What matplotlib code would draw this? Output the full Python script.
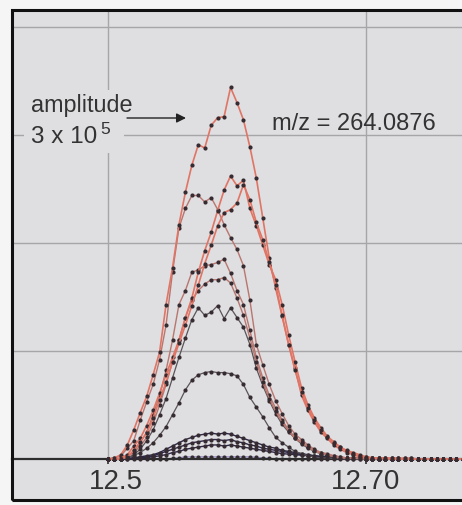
import matplotlib
matplotlib.use("Agg")
import matplotlib.pyplot as plt
from matplotlib.patches import Rectangle
from matplotlib.transforms import ScaledTranslation
import numpy as np

plt.rcParams['font.family'] = ['Liberation Sans', 'DejaVu Sans']

# ---- data (retention time in min, intensity in units of 1e5) ----
scan_time = [12.500, 12.505, 12.510, 12.515, 12.520, 12.525, 12.530, 12.535,
             12.540, 12.545, 12.550, 12.555, 12.560, 12.565, 12.570, 12.575,
             12.580, 12.585, 12.590, 12.595, 12.600, 12.605, 12.610, 12.615,
             12.620, 12.625, 12.630, 12.635, 12.640, 12.645, 12.650, 12.655,
             12.660, 12.665, 12.670, 12.675, 12.680, 12.685, 12.690, 12.695,
             12.700, 12.705, 12.710, 12.715, 12.720, 12.725, 12.730, 12.735,
             12.740, 12.745, 12.750, 12.755, 12.760, 12.765, 12.770, 12.775]

trace_a = [0, 0.01, 0.04, 0.13, 0.27, 0.43, 0.58, 0.78, 0.99, 1.43, 1.77, 2.17,
           2.47, 2.72, 2.91, 2.88, 3.09, 3.16, 3.17, 3.44, 3.30, 3.14, 2.89, 2.60,
           2.23, 1.86, 1.58, 1.32, 1.06, 0.84, 0.59, 0.45, 0.34, 0.25, 0.19, 0.13,
           0.09, 0.06, 0.04, 0.02, 0.01, 0.01, 0.01, 0.005, 0.005, 0.005,
           0, 0, 0, 0, 0, 0, 0, 0, 0, 0]
trace_b = [0, 0, 0.01, 0.04, 0.12, 0.19, 0.31, 0.45, 0.61, 0.78, 0.94, 1.10,
           1.31, 1.49, 1.73, 1.93, 2.10, 2.30, 2.49, 2.62, 2.53, 2.58, 2.32, 2.16,
           1.98, 1.80, 1.66, 1.43, 1.15, 0.90, 0.66, 0.50, 0.38, 0.29, 0.21, 0.16,
           0.11, 0.07, 0.05, 0.03, 0.02, 0.01,
           0.01, 0.01, 0.005, 0.005, 0.005, 0.005, 0, 0, 0, 0, 0, 0, 0, 0]
trace_c = [0, 0.01, 0.03, 0.10, 0.17, 0.36, 0.53, 0.69, 0.92, 1.24, 1.73, 2.14,
           2.32, 2.44, 2.44, 2.38, 2.42, 2.31, 2.17, 2.05, 1.94, 1.79, 1.47, 1.06,
           0.87, 0.69, 0.54, 0.42, 0.31, 0.23, 0.18, 0.13, 0.09, 0.06, 0.05, 0.03,
           0.02, 0.01,
           0.01, 0.01, 0.005, 0.005, 0.005, 0, 0, 0, 0, 0, 0, 0, 0, 0, 0, 0, 0, 0]
trace_d = [0, 0, 0, 0.02, 0.08, 0.16, 0.24, 0.38, 0.55, 0.71, 0.90, 1.07,
           1.24, 1.42, 1.61, 1.81, 1.98, 2.16, 2.28, 2.31, 2.37, 2.54, 2.40, 2.19,
           2.03, 1.82, 1.61, 1.33, 1.06, 0.82, 0.62, 0.47, 0.36, 0.27, 0.20, 0.15,
           0.11, 0.08, 0.06, 0.04, 0.02, 0.01,
           0.01, 0.01, 0.005, 0.005, 0.005, 0.005, 0, 0, 0, 0, 0, 0, 0, 0]
trace_e = [0, 0, 0, 0.03, 0.07, 0.15, 0.25, 0.41, 0.59, 0.82, 1.10, 1.43,
           1.56, 1.73, 1.75, 1.79, 1.80, 1.82, 1.85, 1.72, 1.56, 1.43, 1.19, 0.94,
           0.75, 0.59, 0.47, 0.36, 0.27, 0.20, 0.16, 0.11, 0.08, 0.06, 0.04, 0.03,
           0.02, 0.01,
           0.01, 0.005, 0.005, 0.005, 0, 0, 0, 0, 0, 0, 0, 0, 0, 0, 0, 0, 0, 0]
trace_f = [0, 0, 0, 0.02, 0.06, 0.12, 0.20, 0.33, 0.50, 0.69, 0.90, 1.10,
           1.31, 1.47, 1.56, 1.62, 1.66, 1.66, 1.68, 1.63, 1.49, 1.33, 1.12, 0.90,
           0.71, 0.56, 0.44, 0.34, 0.26, 0.19, 0.15, 0.11, 0.07, 0.05, 0.04, 0.02,
           0.01,
           0.01, 0.005, 0.005, 0, 0, 0, 0, 0, 0, 0, 0, 0, 0, 0, 0, 0, 0, 0, 0]
trace_g = [0, 0, 0, 0.01, 0.04, 0.09, 0.17, 0.27, 0.41, 0.56, 0.75, 0.94,
           1.12, 1.29, 1.40, 1.33, 1.36, 1.42, 1.30, 1.40, 1.31, 1.22, 1.06, 0.84,
           0.68, 0.54, 0.42, 0.32, 0.25, 0.19, 0.14, 0.10, 0.07, 0.05, 0.03, 0.02,
           0.01,
           0.01, 0.005, 0.005, 0, 0, 0, 0, 0, 0, 0, 0, 0, 0, 0, 0, 0, 0, 0, 0]
trace_h = [0, 0, 0, 0.01, 0.03, 0.06, 0.10, 0.15, 0.22, 0.30, 0.41, 0.52,
           0.64, 0.73, 0.78, 0.80, 0.81, 0.80, 0.80, 0.79, 0.77, 0.69, 0.57, 0.48,
           0.39, 0.29, 0.20, 0.15, 0.11, 0.07, 0.05, 0.03, 0.02, 0.01,
           0.01, 0.005, 0.005, 0, 0, 0, 0, 0, 0, 0, 0, 0, 0, 0, 0, 0, 0, 0, 0, 0, 0, 0]
trace_s1 = [0, 0, 0, 0.005, 0.01, 0.02, 0.03, 0.04, 0.06, 0.09, 0.12, 0.15,
            0.18, 0.20, 0.22, 0.23, 0.24, 0.23, 0.24, 0.23, 0.21, 0.19, 0.17, 0.15,
            0.13, 0.11, 0.10, 0.08, 0.07, 0.06, 0.05, 0.04, 0.03, 0.025, 0.02, 0.015,
            0.01, 0.01, 0.005, 0.005,
            0, 0, 0, 0, 0, 0, 0, 0, 0, 0, 0, 0, 0, 0, 0, 0]
trace_s2 = [0, 0, 0, 0.005, 0.01, 0.015, 0.02, 0.03, 0.05, 0.07, 0.09, 0.11,
            0.13, 0.15, 0.16, 0.17, 0.18, 0.18, 0.17, 0.18, 0.16, 0.15, 0.13, 0.12,
            0.10, 0.09, 0.08, 0.07, 0.06, 0.05, 0.04, 0.035, 0.03, 0.02, 0.015, 0.01,
            0.01, 0.005, 0.005, 0.005,
            0, 0, 0, 0, 0, 0, 0, 0, 0, 0, 0, 0, 0, 0, 0, 0]
trace_s3 = [0, 0, 0, 0, 0.005, 0.01, 0.015, 0.02, 0.03, 0.04, 0.06, 0.07,
            0.09, 0.10, 0.11, 0.12, 0.13, 0.13, 0.12, 0.13, 0.12, 0.11, 0.10, 0.09,
            0.08, 0.07, 0.06, 0.05, 0.045, 0.04, 0.035, 0.03, 0.025, 0.02, 0.015, 0.01,
            0.01, 0.005, 0.005, 0.005,
            0, 0, 0, 0, 0, 0, 0, 0, 0, 0, 0, 0, 0, 0, 0, 0]
trace_s4 = [0, 0, 0, 0, 0, 0, 0, 0, 0, 0, 0.005, 0.01,
            0.02, 0.02, 0.02, 0.02, 0.02, 0.02, 0.02, 0.02, 0.02, 0.02, 0.02, 0.015,
            0.01, 0.005,
            0, 0, 0, 0, 0, 0, 0, 0, 0, 0, 0, 0, 0, 0, 0, 0, 0, 0, 0, 0,
            0, 0, 0, 0, 0, 0, 0, 0, 0, 0]

xtick_vals = [12.5, 12.70]
xtick_labels = ['12.5', '12.70']
grid_y = [1, 2, 3, 4]

# ---- styles ----
W, H = 462, 505
BG = '#dfdee1'
RED = '#e07565'
MUTED = '#b8766f'
DARK = '#5a5458'
NAVY = '#2d2848'
LAV = '#9a94c8'
DOT = '#352b30'
TXT = '#333333'

def fx(px):
    return px / W

def fy(py):
    return 1 - py / H

fig = plt.figure(figsize=(W / 100, H / 100), dpi=100, facecolor='#f5f5f5')

# frame background
fig.add_artist(Rectangle((fx(12), fy(500)), fx(472) - fx(12), fy(10) - fy(500),
                         transform=fig.transFigure, facecolor=BG, edgecolor='none',
                         zorder=-5))

ax = fig.add_axes([fx(12), fy(459), fx(472) - fx(12), fy(10) - fy(459)])
ax.set_facecolor('none')
ax.set_xlim(12.5 - 96 / 1290, 12.5 + 364 / 1290)
ax.set_ylim(0, 449 / 108)
ax.set_axisbelow(True)

for s in ['top', 'left', 'right']:
    ax.spines[s].set_visible(False)
ax.spines['bottom'].set_color('#2e2e2e')
ax.spines['bottom'].set_linewidth(1.6)

ax.set_yticks(grid_y)
ax.tick_params(axis='y', length=0, labelleft=False)
ax.set_xticks(xtick_vals, xtick_labels)
ax.tick_params(axis='x', direction='out', length=3.5, width=1.2, color='#2e2e2e',
               labelsize=20, labelcolor=TXT, pad=4)
ax.grid(True, color='#a6a6a8', linewidth=1.0)
# first label sits slightly right of its tick
lab0 = ax.get_xticklabels()[0]
lab0.set_transform(lab0.get_transform() + ScaledTranslation(8 / 100, 0, fig.dpi_scale_trans))

t = np.array(scan_time)
red_traces = [trace_a, trace_b, trace_d]
muted_traces = [trace_c, trace_e, trace_f]
dark_traces = [trace_g, trace_h]
navy_traces = [trace_s1, trace_s2, trace_s3]

def draw(vals, color, lw=1.0, z=3):
    ax.plot(t, vals, color=color, lw=lw, marker='o', markersize=3.0,
            markerfacecolor=DOT, markeredgecolor='none', zorder=z, clip_on=False)

draw(trace_s4, LAV, 1.0, 2.5)
for tr in navy_traces:
    draw(tr, NAVY, 1.0, 2.6)
for tr in dark_traces:
    draw(tr, DARK, 0.9, 2.8)
for tr in muted_traces:
    draw(tr, MUTED, 1.0, 2.9)
for tr in red_traces:
    draw(tr, RED, 1.2, 3)

# text box area hiding gridlines
ax.add_patch(Rectangle((fx(24), fy(153)), fx(124) - fx(24), fy(90) - fy(153),
                       transform=fig.transFigure, facecolor=BG, edgecolor='none',
                       zorder=1))

fig.text(fx(31), fy(112), 'amplitude', fontsize=16.8, color=TXT,
         ha='left', va='baseline')
fig.text(fx(31), fy(143), '3 x 10', fontsize=17.5, color=TXT,
         ha='left', va='baseline')
fig.text(fx(100), fy(134), '5', fontsize=12.5, color=TXT,
         ha='left', va='baseline')
fig.text(fx(272), fy(130), 'm/z = 264.0876', fontsize=17, color=TXT,
         ha='left', va='baseline')

ax.annotate('', xy=(fx(186), fy(118)), xytext=(fx(127), fy(118)),
            xycoords='figure fraction', textcoords='figure fraction',
            arrowprops=dict(arrowstyle='-|>', color='#222222', lw=1.0,
                            mutation_scale=14, shrinkA=0, shrinkB=0))

# outer frame on top
fig.add_artist(Rectangle((fx(12), fy(500)), fx(472) - fx(12), fy(10) - fy(500),
                         transform=fig.transFigure, facecolor='none',
                         edgecolor='#111111', linewidth=2.2, zorder=10))

fig.savefig('out.png', dpi=100, facecolor=fig.get_facecolor())
